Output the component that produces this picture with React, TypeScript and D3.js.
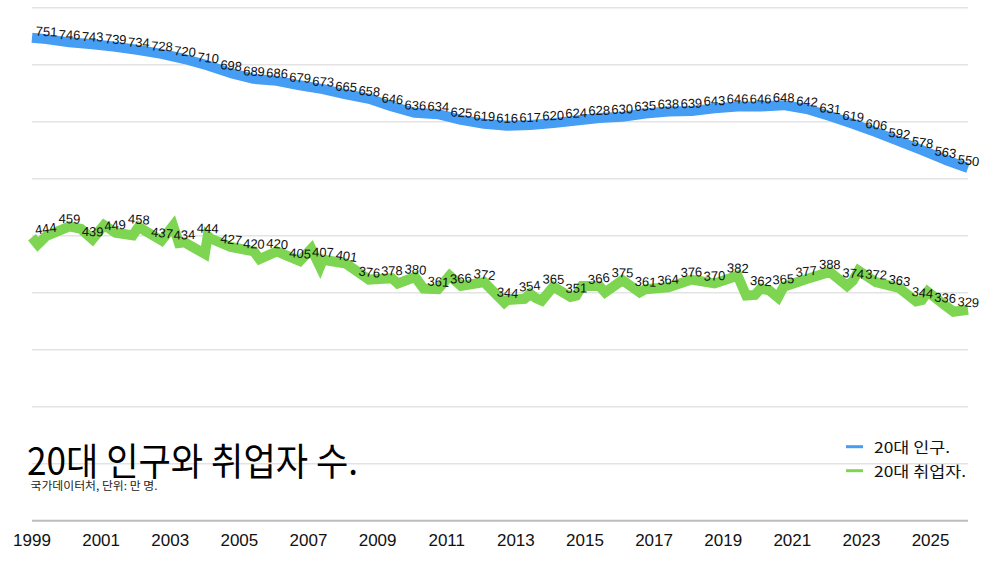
import React from 'react';
import * as d3 from 'd3';

const W = 1000;
const H = 563;

// Monthly index: 0 = Jan 1999 ... 325 = last month
const lastMonth = 325;
const yearTicks = [1999, 2001, 2003, 2005, 2007, 2009, 2011, 2013, 2015, 2017, 2019, 2021, 2023, 2025];

// labelled points every 8 months, ending with the last month
const labelMonths = d3.range(5, 326, 8);

const popLabels = [751, 746, 743, 739, 734, 728, 720, 710, 698, 689, 686, 679, 673, 665, 658, 646, 636, 634, 625, 619, 616, 617, 620, 624, 628, 630, 635, 638, 639, 643, 646, 646, 648, 642, 631, 619, 606, 592, 578, 563, 550];
const empLabels = [444, 459, 439, 449, 458, 437, 434, 444, 427, 420, 420, 405, 407, 401, 376, 378, 380, 361, 366, 372, 344, 354, 365, 351, 366, 375, 361, 364, 376, 370, 382, 362, 365, 377, 388, 374, 372, 363, 344, 336, 329];

// additional unlabelled points: [month index, value]
const popExtra: [number, number][] = [[0, 753]];
const empExtra: [number, number][] = [
  [0, 442], [2, 431], [17, 455], [25, 461], [35, 445], [49, 460], [51, 433], [60, 416], [62, 440],
  [79, 408], [97, 424], [100, 396], [127, 370], [136, 362], [145, 382], [164, 340], [171, 346],
  [175, 347], [177, 343], [187, 349], [191, 366], [199, 356], [211, 356], [248, 351], [251, 352],
  [256, 359], [259, 348], [283, 366], [287, 390], [307, 342], [311, 357], [320, 326],
];

const seriesNames = ['20대 인구.', '20대 취업자.'];
const colors = ['#459DF4', '#7ED552'];
const title = '20대 인구와 취업자 수.';
const subtitle = '국가데이터처, 단위: 만 명.';

const x = d3.scaleLinear().domain([0, lastMonth]).range([32, 968]);
const y = d3.scaleLinear().domain([0, 800]).range([520.7, 7.7]);

function buildSeries(labels: number[], extra: [number, number][]) {
  const pts: [number, number][] = labelMonths.map((m, i) => [m, labels[i]] as [number, number]).concat(extra);
  pts.sort((a, b) => a[0] - b[0]);
  return pts;
}

const popSeries = buildSeries(popLabels, popExtra);
const empSeries = buildSeries(empLabels, empExtra);

const line = d3.line<[number, number]>().x(d => x(d[0])).y(d => y(d[1]));

function labelAngle(labels: number[], i: number) {
  const a = Math.max(0, i - 1);
  const b = Math.min(labels.length - 1, i + 1);
  const dx = x(labelMonths[b]) - x(labelMonths[a]);
  const dy = y(labels[b]) - y(labels[a]);
  return (Math.atan2(dy, dx) * 180 / Math.PI) * 0.35;
}

const gridVals = d3.range(1, 10).map(k => (k * 800) / 9);
const numFont = '"Liberation Sans", Arial, Helvetica, sans-serif';
const korFont = '"Noto Sans CJK KR", "Noto Sans", sans-serif';

export default function App() {
  return (
    <svg width={W} height={H} style={{ position: 'absolute', left: 0, top: 0, background: '#fff' }}>
      <rect x={0} y={0} width={W} height={H} fill="#fff" />
      {gridVals.map((v, i) => (
        <line key={i} x1={x(0)} x2={x(lastMonth)} y1={y(v)} y2={y(v)} stroke="#e3e3e3" strokeWidth={1.5} />
      ))}
      <line x1={x(0)} x2={x(lastMonth)} y1={y(0)} y2={y(0)} stroke="#bdbdbd" strokeWidth={2} />
      {yearTicks.map(yr => (
        <text key={yr} x={x((yr - 1999) * 12)} y={545.5} textAnchor="middle" fontFamily={numFont} fontSize={17} fill="#111">
          {yr}
        </text>
      ))}

      <text x={27} y={475} fontFamily={korFont} fontSize={38} fill="#000" textLength={331} lengthAdjust="spacingAndGlyphs">
        {title}
      </text>
      <text x={30.5} y={489.5} fontFamily={korFont} fontSize={11} fill="#222" textLength={127} lengthAdjust="spacingAndGlyphs">
        {subtitle}
      </text>

      <path d={line(empSeries) || ''} fill="none" stroke={colors[1]} strokeWidth={10} strokeLinejoin="miter" strokeMiterlimit={4} />
      <path d={line(popSeries) || ''} fill="none" stroke={colors[0]} strokeWidth={10} strokeLinejoin="round" />

      {[popLabels, empLabels].map((labels, s) =>
        labels.map((v, i) => {
          const px = x(labelMonths[i]);
          const py = y(v) - 3;
          return (
            <text
              key={`${s}-${i}`}
              x={px}
              y={py}
              textAnchor="middle"
              fontFamily={numFont}
              fontSize={13}
              fill="#111"
              transform={`rotate(${labelAngle(labels, i)} ${px} ${py})`}
            >
              {v}
            </text>
          );
        })
      )}

      {seriesNames.map((name, i) => (
        <g key={name}>
          <line x1={846} x2={863} y1={446.7 + i * 24} y2={446.7 + i * 24} stroke={colors[i]} strokeWidth={3} />
          <text x={874} y={452.7 + i * 24} fontFamily={korFont} fontSize={15} fill="#111" textLength={i === 0 ? 76 : 92} lengthAdjust="spacingAndGlyphs">
            {name}
          </text>
        </g>
      ))}
    </svg>
  );
}
